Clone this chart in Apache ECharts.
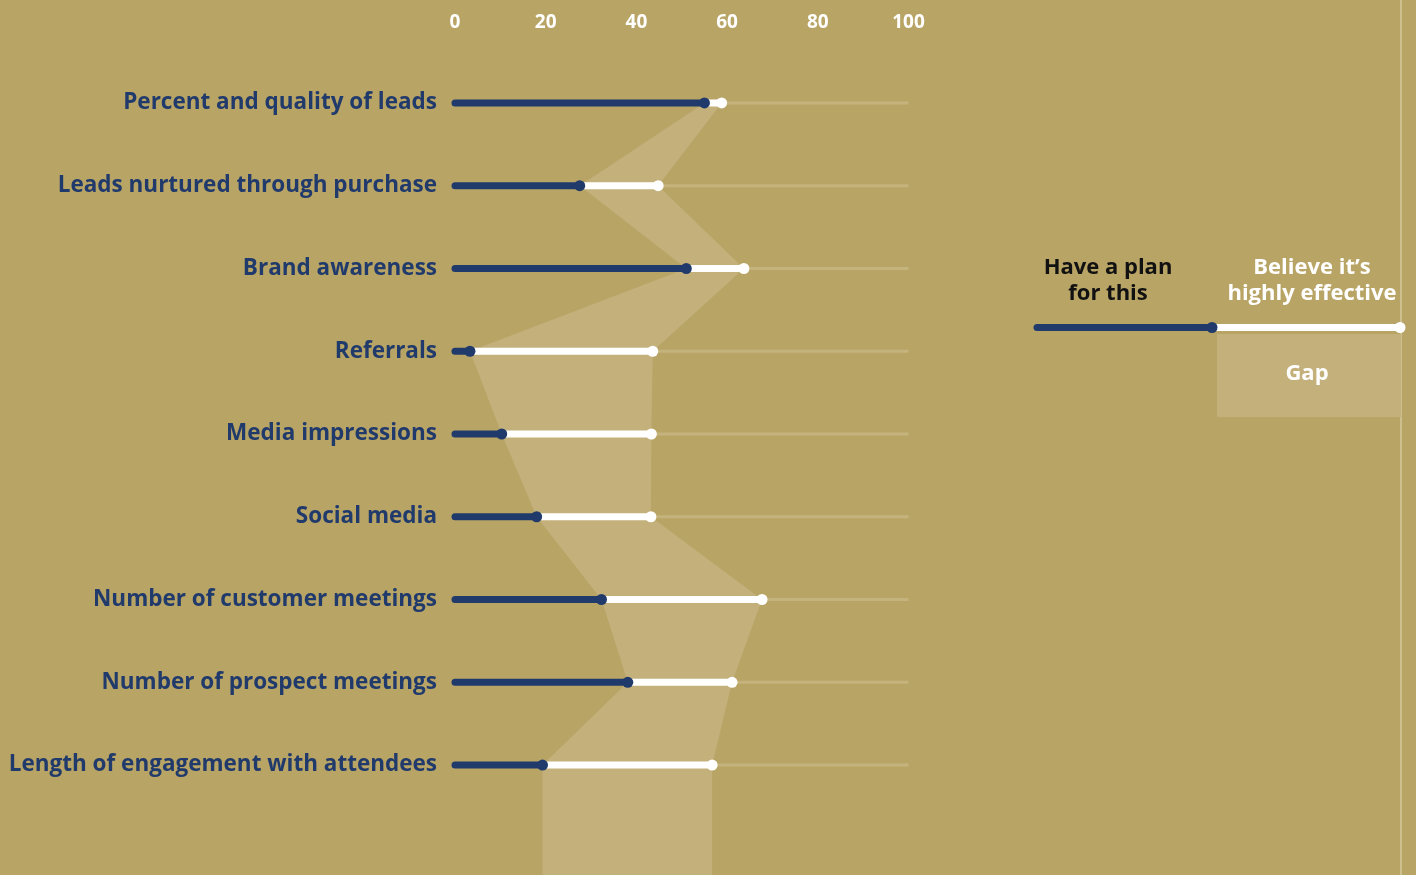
<!DOCTYPE html>
<html><head><meta charset="utf-8">
<script src="https://cdn.jsdelivr.net/npm/echarts@6/dist/echarts.min.js"></script>
<style>html,body{margin:0;padding:0;background:#b8a465;}#c{width:1416px;height:875px;}</style>
</head><body><div id="c"></div>
<script>
const categories = [
  'Percent and quality of leads',
  'Leads nurtured through purchase',
  'Brand awareness',
  'Referrals',
  'Media impressions',
  'Social media',
  'Number of customer meetings',
  'Number of prospect meetings',
  'Length of engagement with attendees'
];
const planValues = [55, 27.5, 51, 3.3, 10.3, 18, 32.3, 38.1, 19.3];
const effectiveValues = [58.8, 44.8, 63.7, 43.6, 43.3, 43.2, 67.7, 61.1, 56.7];
const xTicks = [0, 20, 40, 60, 80, 100];
const legendPlanLabel = 'Have a plan\nfor this';
const legendEffLabel = 'Believe it\u2019s\nhighly effective';
const legendGapLabel = 'Gap';

const BG = '#b8a465', NAVY = '#213a6c', GAPC = '#c3b07b', TRACK = '#c4b37c';
const FONT = 'Open Sans';

const chart = echarts.init(document.getElementById('c'), null, {renderer: 'canvas'});

const rows = categories.map((c, i) => [i, planValues[i], effectiveValues[i]]);

const option = {
  backgroundColor: BG,
  animation: false,
  grid: {left: 455, right: 507.5, top: 61.6, bottom: 68.6, containLabel: false},
  xAxis: {
    type: 'value', position: 'top', min: xTicks[0], max: xTicks[xTicks.length - 1], interval: 20,
    axisLine: {show: false}, axisTick: {show: false}, splitLine: {show: false},
    axisLabel: {color: '#ffffff', fontFamily: FONT, fontWeight: 'bold', fontSize: 19, margin: 30}
  },
  yAxis: {
    type: 'category', data: categories, inverse: true,
    axisLine: {show: false}, axisTick: {show: false}, splitLine: {show: false},
    axisLabel: {color: NAVY, fontFamily: FONT, fontWeight: 'bold', fontSize: 22.5, margin: 18}
  },
  series: [
    {
      type: 'custom', z: 1, silent: true,
      data: [[0]],
      renderItem: function (params, api) {
        const left = [], right = [];
        for (let i = 0; i < categories.length; i++) {
          left.push(api.coord([planValues[i], i]));
          right.push(api.coord([effectiveValues[i], i]));
        }
        const h = api.getHeight();
        const last = categories.length - 1;
        const pts = left.slice();
        pts.push([left[last][0], h]);
        pts.push([right[last][0], h]);
        for (let i = last; i >= 0; i--) pts.push(right[i]);
        return {type: 'polygon', shape: {points: pts}, style: {fill: GAPC}};
      }
    },
    {
      type: 'custom', z: 2, silent: true,
      data: rows,
      encode: {x: [1, 2], y: 0},
      renderItem: function (params, api) {
        const i = api.value(0);
        const p0 = api.coord([0, i]);
        const pEnd = api.coord([100, i]);
        const pPlan = api.coord([api.value(1), i]);
        const pEff = api.coord([api.value(2), i]);
        return {
          type: 'group',
          children: [
            {type: 'line', shape: {x1: pEff[0], y1: pEff[1], x2: pEnd[0], y2: pEnd[1]}, style: {stroke: TRACK, lineWidth: 3}},
            {type: 'line', shape: {x1: pPlan[0], y1: pPlan[1], x2: pEff[0], y2: pEff[1]}, style: {stroke: '#ffffff', lineWidth: 7, lineCap: 'round'}},
            {type: 'line', shape: {x1: p0[0], y1: p0[1], x2: pPlan[0], y2: pPlan[1]}, style: {stroke: NAVY, lineWidth: 7, lineCap: 'round'}},
            {type: 'circle', shape: {cx: pEff[0], cy: pEff[1], r: 5.5}, style: {fill: '#ffffff'}},
            {type: 'circle', shape: {cx: pPlan[0], cy: pPlan[1], r: 5.5}, style: {fill: NAVY}}
          ]
        };
      }
    }
  ],
  graphic: [
    {type: 'line', shape: {x1: 1401, y1: 0, x2: 1401, y2: 875}, style: {stroke: '#d6c99c', lineWidth: 1.5}, silent: true},
    {type: 'rect', shape: {x: 1217, y: 334, width: 184, height: 83}, style: {fill: GAPC}, silent: true},
    {type: 'line', shape: {x1: 1212, y1: 327.5, x2: 1400, y2: 327.5}, style: {stroke: '#ffffff', lineWidth: 7, lineCap: 'round'}, silent: true},
    {type: 'line', shape: {x1: 1037, y1: 327.5, x2: 1212, y2: 327.5}, style: {stroke: NAVY, lineWidth: 7, lineCap: 'round'}, silent: true},
    {type: 'circle', shape: {cx: 1400, cy: 327.5, r: 5.5}, style: {fill: '#ffffff'}, silent: true},
    {type: 'circle', shape: {cx: 1212, cy: 327.5, r: 5.5}, style: {fill: NAVY}, silent: true},
    {type: 'text', x: 1108, y: 281, style: {text: legendPlanLabel, fill: '#111111', font: 'bold 22px "Open Sans"', align: 'center', verticalAlign: 'middle', lineHeight: 26}, silent: true},
    {type: 'text', x: 1312, y: 281, style: {text: legendEffLabel, fill: '#ffffff', font: 'bold 22px "Open Sans"', align: 'center', verticalAlign: 'middle', lineHeight: 26}, silent: true},
    {type: 'text', x: 1307, y: 374, style: {text: legendGapLabel, fill: '#ffffff', font: 'bold 22px "Open Sans"', align: 'center', verticalAlign: 'middle'}, silent: true}
  ]
};
chart.setOption(option);
</script>
</body></html>
